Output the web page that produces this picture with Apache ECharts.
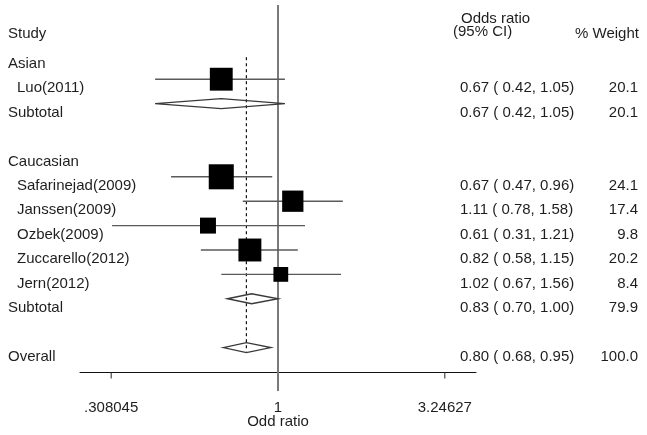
<!DOCTYPE html>
<html>
<head>
<meta charset="utf-8">
<script src="https://cdn.jsdelivr.net/npm/echarts@6/dist/echarts.min.js"></script>
<style>html,body{margin:0;padding:0;background:#fff}#c{width:647px;height:435px}</style>
</head>
<body>
<div id="c"></div>
<script>
// ---- data ----
const rowLabels = ['Asian','Luo(2011)','Subtotal','','Caucasian','Safarinejad(2009)','Janssen(2009)','Ozbek(2009)','Zuccarello(2012)','Jern(2012)','Subtotal','','Overall'];
const rowKind   = ['group','study','pooled','blank','group','study','study','study','study','study','pooled','blank','pooled'];
const oddsRatio = [null,0.67,0.67,null,null,0.67,1.11,0.61,0.82,1.02,0.83,null,0.80];
const ciLow     = [null,0.42,0.42,null,null,0.47,0.78,0.31,0.58,0.67,0.70,null,0.68];
const ciHigh    = [null,1.05,1.05,null,null,0.96,1.58,1.21,1.15,1.56,1.00,null,0.95];
const weights   = [null,20.1,20.1,null,null,24.1,17.4,9.8,20.2,8.4,79.9,null,100.0];
const tickValues = [0.308045, 1, 3.24627];
const tickLabels = ['.308045', '1', '3.24627'];
const overallOR = 0.80;
const axisMin = 0.2472, axisMax = 4.045;

// ---- layout / style ----
const FONT = "'Liberation Sans', Arial, sans-serif";
const TXT = '#1e1e1e';
const fs = 15;

const chart = echarts.init(document.getElementById('c'), null, {renderer: 'canvas'});

function txt(x, y, s, align) {
  return {type: 'text', x: x, y: y, style: {text: s, fill: TXT, font: fs + 'px ' + FONT, textAlign: align || 'left', textVerticalAlign: 'middle'}};
}

const rowsIdx = rowLabels.map((_, i) => [i]);

const option = {
  animation: false,
  grid: {left: 80, right: 171, top: 6, bottom: 63},
  xAxis: {
    type: 'log', logBase: Math.E, min: axisMin, max: axisMax,
    axisLine: {show: true, onZero: false, lineStyle: {color: '#111', width: 1}},
    axisTick: {show: false}, axisLabel: {show: false}, splitLine: {show: false}
  },
  yAxis: {
    type: 'value', inverse: true, min: -1, max: 14,
    show: false, splitLine: {show: false}
  },
  series: [
    {
      // reference lines, axis ticks and labels
      type: 'custom', silent: true, z: 1,
      data: [[0]],
      renderItem: function (params, api) {
        const children = [];
        const topP = api.coord([1, -1]);
        const axP = api.coord([1, 14]);
        children.push({type: 'line', shape: {x1: topP[0], y1: topP[1] - 1, x2: axP[0], y2: axP[1] + 19},
          style: {stroke: '#7a7a7a', lineWidth: 2}});
        const d1 = api.coord([overallOR, 1.1]);
        const d2 = api.coord([overallOR, 13]);
        children.push({type: 'line', shape: {x1: d1[0], y1: d1[1], x2: d2[0], y2: d2[1] + 4},
          style: {stroke: '#111', lineWidth: 1.2, lineDash: [3, 3]}});
        tickValues.forEach(function (v, k) {
          const p = api.coord([v, 14]);
          if (v !== 1) {
            children.push({type: 'line', shape: {x1: p[0], y1: p[1], x2: p[0], y2: p[1] + 6.5},
              style: {stroke: '#222', lineWidth: 1}});
          }
          children.push(txt(p[0], p[1] + 36, tickLabels[k], 'center'));
        });
        const c = api.coord([1, 14]);
        children.push(txt(c[0], c[1] + 50, 'Odd ratio', 'center'));
        return {type: 'group', children: children};
      }
    },
    {
      type: 'custom', silent: true, z: 2,
      data: rowsIdx,
      renderItem: function (params, api) {
        const i = api.value(0);
        const row = i + 1;
        const kind = rowKind[i];
        const children = [];
        const base = api.coord([1, row]);
        if (kind === 'study') {
          const a = api.coord([ciLow[i], row]);
          const b = api.coord([ciHigh[i], row]);
          const m = api.coord([oddsRatio[i], row]);
          children.push({type: 'line', shape: {x1: a[0], y1: a[1], x2: b[0], y2: b[1]},
            style: {stroke: '#5a5a5a', lineWidth: 1.4}});
          const s = 5.1 * Math.sqrt(weights[i]);
          children.push({type: 'rect', shape: {x: m[0] - s / 2, y: m[1] - s / 2, width: s, height: s},
            style: {fill: '#000'}});
        } else if (kind === 'pooled') {
          const a = api.coord([ciLow[i], row]);
          const b = api.coord([ciHigh[i], row]);
          const m = api.coord([oddsRatio[i], row]);
          const h = 5;
          children.push({type: 'polygon', shape: {points: [[a[0], a[1]], [m[0], m[1] - h], [b[0], b[1]], [m[0], m[1] + h]]},
            style: {fill: 'none', stroke: '#3a3a3a', lineWidth: 1.4}});
        }
        // text columns
        if (kind !== 'blank') {
          const off = 9;
          const y = base[1] + off;
          const x = (kind === 'study') ? 17 : 8;
          children.push(txt(x, y, rowLabels[i]));
          if (kind === 'study' || kind === 'pooled') {
            const s = oddsRatio[i].toFixed(2) + ' ( ' + ciLow[i].toFixed(2) + ', ' + ciHigh[i].toFixed(2) + ')';
            children.push(txt(460, y, s));
            children.push(txt(638, y, weights[i].toFixed(1), 'right'));
          }
        }
        return {type: 'group', children: children};
      }
    }
  ],
  graphic: [
    {type: 'text', left: 8, top: 26, style: {text: 'Study', fill: TXT, font: fs + 'px ' + FONT}},
    {type: 'text', left: 461, top: 11, style: {text: 'Odds ratio', fill: TXT, font: fs + 'px ' + FONT}},
    {type: 'text', left: 453, top: 24, style: {text: '(95% CI)', fill: TXT, font: fs + 'px ' + FONT}},
    {type: 'text', left: 575, top: 26, style: {text: '% Weight', fill: TXT, font: fs + 'px ' + FONT}}
  ]
};
chart.setOption(option);
</script>
</body>
</html>
